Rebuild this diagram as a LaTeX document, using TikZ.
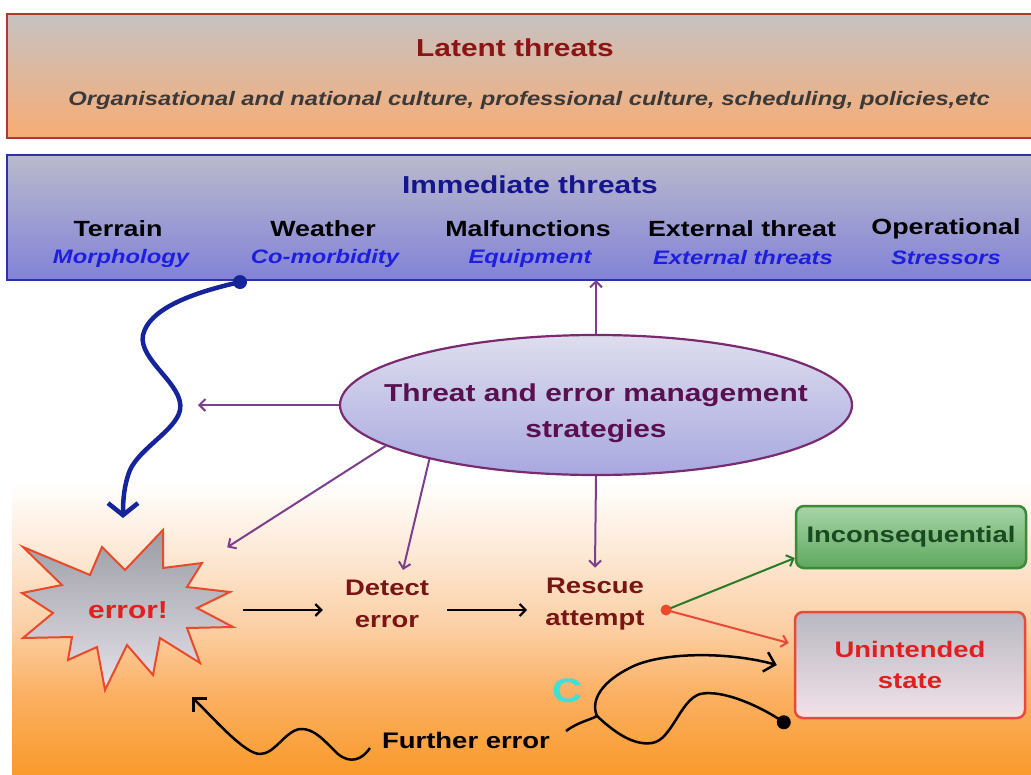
\documentclass[tikz,border=0pt]{standalone}
\usepackage{fontspec}
\setmainfont{Liberation Sans}[FakeStretch=1.22]
\usetikzlibrary{shapes.geometric,arrows.meta}
\definecolor{latTop}{HTML}{C6C2C2}
\definecolor{latBot}{HTML}{F8AC74}
\definecolor{latLine}{HTML}{B03A2A}
\definecolor{latText}{HTML}{8B1515}
\definecolor{subGray}{HTML}{3A3A3A}
\definecolor{immTop}{HTML}{BABACC}
\definecolor{immBot}{HTML}{8282D8}
\definecolor{immLine}{HTML}{2A34A0}
\definecolor{immText}{HTML}{151590}
\definecolor{itBlue}{HTML}{1E1EE0}
\definecolor{elTop}{HTML}{DEDEEE}
\definecolor{elBot}{HTML}{A8A8E0}
\definecolor{elLine}{HTML}{7A2A70}
\definecolor{elText}{HTML}{5A1050}
\definecolor{purp}{HTML}{7B3F8C}
\definecolor{curveBlue}{HTML}{15249A}
\definecolor{orA}{HTML}{F99A2C}
\definecolor{orB}{HTML}{FBB062}
\definecolor{orC}{HTML}{FCCFA4}
\definecolor{orD}{HTML}{FDE6D0}
\definecolor{starTop}{HTML}{9C9CA4}
\definecolor{starBot}{HTML}{E4E2EA}
\definecolor{starLine}{HTML}{E84A2A}
\definecolor{errRed}{HTML}{E02020}
\definecolor{stepRed}{HTML}{7A1515}
\definecolor{grTop}{HTML}{A8D4A8}
\definecolor{grBot}{HTML}{5EA85E}
\definecolor{grLine}{HTML}{3A8A3A}
\definecolor{grText}{HTML}{1A4A20}
\definecolor{grArr}{HTML}{2A7A2A}
\definecolor{unTop}{HTML}{B8B8C0}
\definecolor{unBot}{HTML}{F2E2EA}
\definecolor{unLine}{HTML}{E84A3A}
\definecolor{cyanC}{HTML}{3EE0D8}
\pgfdeclareverticalshading{bgfade}{100bp}{color(0bp)=(orA); color(25bp)=(orA); color(38bp)=(orB); color(49bp)=(orC); color(60bp)=(orD); color(73bp)=(white); color(100bp)=(white)}
\newcommand\fsz[2]{\fontsize{#1}{#2}\selectfont}
\begin{document}
\begin{tikzpicture}[x=1pt,y=-1pt,
  band/.style={line width=2.5pt},
  head/.style={font=\fsz{22}{26}\bfseries, text=black, inner sep=0pt},
  subit/.style={font=\fsz{19.5}{23}\bfseries\itshape, text=itBlue, inner sep=0pt},
  parr/.style={draw=purp, line width=2pt, -{Straight Barb[length=6pt,width=12pt]}},
  barr/.style={draw=black, line width=2.2pt, -{Straight Barb[length=6pt,width=12pt]}},
  steptxt/.style={font=\fsz{22.5}{32}\bfseries, text=stepRed, align=center, inner sep=0pt},
  resbox/.style={rounded corners=8pt, line width=2.5pt, minimum width=230pt, inner sep=0pt, align=center},
  wig/.style={draw=black, line width=2.5pt}
]
\useasboundingbox (0,0) rectangle (1031,774);
\fill[white] (0,0) rectangle (1031,774);
% bottom background fade
\shade[shading=bgfade] (12,470) rectangle (1031,774);

% latent threats band
\draw[band, draw=latLine, top color=latTop, bottom color=latBot] (7,14) rectangle (1045,138);
\node[font=\fsz{24.5}{28}\bfseries, text=latText, inner sep=0pt] (lat) at (515,48) {Latent threats};
\node[font=\fsz{19.5}{23}\bfseries\itshape, text=subGray, inner sep=0pt] (latsub) at (529,100) {Organisational and national culture, professional culture, scheduling, policies,etc};

% immediate threats band
\draw[band, draw=immLine, top color=immTop, bottom color=immBot] (7,155) rectangle (1045,280);
\coordinate (immS) at (590,280);
\node[font=\fsz{24.5}{28}\bfseries, text=immText, inner sep=0pt] (imm) at (530,185) {Immediate threats};
\node[head] (h1) at (118,229) {Terrain};
\node[subit] (s1) at (121,258) {Morphology};
\node[head] (h2) at (323,229) {Weather};
\node[subit] (s2) at (325,258) {Co-morbidity};
\node[head] (h3) at (528,229) {Malfunctions};
\node[subit] (s3) at (530,258) {Equipment};
\node[head] (h4) at (742,229) {External threat};
\node[subit] (s4) at (743,258) {External threats};
\node[head] (h5) at (946,229) {Operational};
\node[subit] (s5) at (946,258) {Stressors};

% ellipse
\node[ellipse, draw=elLine, line width=2.2pt, top color=elTop, bottom color=elBot,
      minimum width=512pt, minimum height=140pt, inner sep=0pt] (tem) at (596,405) {};
\node[font=\fsz{24.5}{36}\bfseries, text=elText, align=center, inner sep=0pt] (temtxt) at (596,413)
      {Threat and error management\\strategies};

% error starburst
\draw[draw=starLine, line width=2pt, top color=starTop, bottom color=starBot, line join=miter]
  (22,593) -- (62,585) -- (23,547) -- (90,575) -- (102,547) -- (125,570) -- (163,530) -- (163,568)
  -- (202,563) -- (187,587) -- (230,592) -- (197,608) -- (233,627) -- (187,628) -- (200,663)
  -- (160,638) -- (153,675) -- (127,645) -- (105,690) -- (97,647) -- (68,660) -- (72,637)
  -- (23,638) -- (53,613) -- cycle;
\node[font=\fsz{24.5}{28}\bfseries, text=errRed, minimum width=230pt, minimum height=165pt, inner sep=0pt] (err) at (128,610) {error!};

% steps
\node[steptxt] (det) at (387,604) {Detect\\error};
\node[steptxt] (res) at (595,604) {Rescue\\attempt};

% outcome boxes
\node[resbox, draw=grLine, top color=grTop, bottom color=grBot, minimum height=62pt,
      font=\fsz{22.5}{26}\bfseries, text=grText] (inc) at (911,537) {Inconsequential};
\node[resbox, draw=unLine, top color=unTop, bottom color=unBot, minimum height=106pt,
      font=\fsz{22.5}{31}\bfseries, text=errRed] (un) at (910,665) {Unintended\\state};

% purple arrows from ellipse
\coordinate (leftend) at (198,405);
\draw[parr] (tem.north) -- (tem.north |- immS);
\draw[parr] (tem.west) -- (leftend);
\draw[parr] (tem.191) -- ([xshift=-16pt,yshift=-20pt]err.north east);
\draw[parr] (tem.198) -- ([xshift=16pt,yshift=10pt]det.north);
\draw[parr] (tem.south) -- ([yshift=10pt]res.north);

% blue curve
\coordinate (bdot) at (240,282);
\coordinate (btip) at (123,518);
\draw[curveBlue, line width=4.5pt, line cap=round, -{Straight Barb[length=12pt,width=30pt]}]
  (bdot) .. controls (205,290) and (150,305) .. (143,335)
  .. controls (138,360) and (185,385) .. (180,410)
  .. controls (176,430) and (140,448) .. (130,470)
  .. controls (124,485) and (123,500) .. (btip);
\fill[curveBlue] (bdot) circle (7pt);

% flow arrows
\draw[barr] (err.east) -- ([xshift=-22pt]det.west |- err.east);
\draw[barr] ([xshift=18pt]det.east |- err.east) -- ([xshift=-18pt]res.west |- err.east);

% red dot and outcomes
\coordinate (rdot) at (666,610);
\draw[grArr, line width=2pt, -{Straight Barb[length=6pt,width=12pt]}] (rdot) -- ([yshift=-21pt]inc.west);
\draw[unLine, line width=2pt, -{Straight Barb[length=6pt,width=12pt]}] (rdot) -- ([xshift=-5pt,yshift=22pt]un.west);
\fill[starLine] (rdot) circle (5.5pt);

% further error
\node[font=\fsz{22.5}{26}\bfseries, text=black, inner sep=0pt] (fe) at (466,740) {Further error};
\coordinate (fstart) at (370,748);
\coordinate (ftip) at (192,697);
\draw[wig, -{Straight Barb[length=10pt,width=20pt]}] (fstart)
  .. controls (362,760) and (350,764) .. (338,754)
  .. controls (325,742) and (315,728) .. (300,729)
  .. controls (285,731) and (275,754) .. (260,754)
  .. controls (245,754) and (215,720) .. (ftip);

% right loop
\node[font=\fsz{34}{38}\bfseries, text=cyanC, inner sep=0pt] (cc) at (567,691) {C};
\coordinate (lstart) at (566,731);
\coordinate (junc) at (597,716);
\coordinate (ldot) at ([xshift=-10pt,yshift=-3pt]un.south west);
\coordinate (larr) at ([xshift=-17pt]un.west);
\draw[wig] (lstart) .. controls (578,722) and (590,720) .. (junc)
  .. controls (612,730) and (632,746) .. (652,743)
  .. controls (672,740) and (680,700) .. (700,694)
  .. controls (722,689) and (760,706) .. (ldot);
\draw[wig, -{Straight Barb[length=10pt,width=20pt]}] (junc)
  .. controls (590,700) and (602,680) .. (636,665)
  .. controls (668,652) and (730,652) .. (larr);
\fill[black] (ldot) circle (7pt);
\end{tikzpicture}
\end{document}
